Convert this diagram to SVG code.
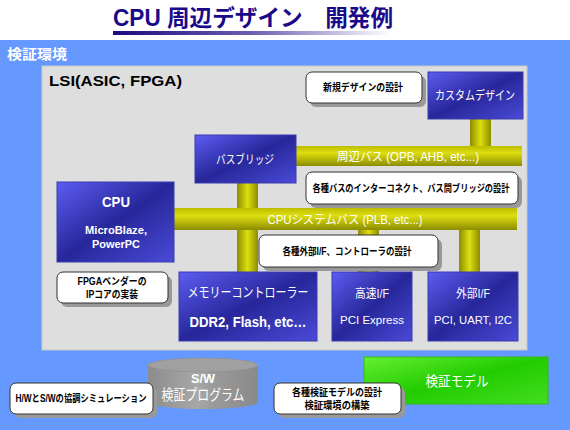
<svg xmlns="http://www.w3.org/2000/svg" width="570" height="430" viewBox="0 0 570 430">
<defs>
<linearGradient id="ul" x1="0" y1="0" x2="1" y2="0"><stop offset="0" stop-color="#1a0a80"/><stop offset="0.5" stop-color="#6a60b0"/><stop offset="1" stop-color="#ffffff"/></linearGradient>
<linearGradient id="blue" x1="0" y1="0" x2="1" y2="1"><stop offset="0" stop-color="#5c5cf2"/><stop offset="0.5" stop-color="#27279a"/><stop offset="1" stop-color="#4a4ad8"/></linearGradient>
<linearGradient id="busH" x1="0" y1="0" x2="0" y2="1"><stop offset="0" stop-color="#bdbd00"/><stop offset="0.35" stop-color="#dede10"/><stop offset="1" stop-color="#8c8c00"/></linearGradient>
<linearGradient id="busV" x1="0" y1="0" x2="1" y2="0"><stop offset="0" stop-color="#8c8c00"/><stop offset="0.5" stop-color="#dede10"/><stop offset="1" stop-color="#8c8c00"/></linearGradient>
<linearGradient id="green" x1="0" y1="0" x2="1" y2="1"><stop offset="0" stop-color="#66ee33"/><stop offset="0.5" stop-color="#22cc00"/><stop offset="1" stop-color="#44dd22"/></linearGradient>
<linearGradient id="cyl" x1="0" y1="0" x2="1" y2="0"><stop offset="0" stop-color="#8c8c8c"/><stop offset="0.45" stop-color="#a8a8a8"/><stop offset="0.6" stop-color="#9a9a9a"/><stop offset="1" stop-color="#8a8a8a"/></linearGradient>
</defs>
<style>
.jp{font-family:"Liberation Sans","Noto Sans CJK JP",sans-serif}
.box{fill:url(#blue);stroke:#3a3ab0;stroke-width:1}
.bt{fill:#ffffff;text-anchor:middle}
.co{fill:#ffffff;stroke:#333333;stroke-width:1}
.sh{fill:#999999}
.ct{fill:#000000;font-size:10px;font-weight:bold;text-anchor:middle}
.bh{fill:url(#busH)}
.bv{fill:url(#busV)}
</style>
<rect x="0" y="0" width="570" height="430" fill="#ffffff"/>
<g id="title">
<text class="jp" x="253" y="26" font-size="23" font-weight="bold" fill="#1a0a8a" text-anchor="middle" textLength="280" lengthAdjust="spacingAndGlyphs">CPU 周辺デザイン　開発例</text>
<rect x="113" y="31" width="278" height="4" fill="url(#ul)"/>
</g>
<rect x="0" y="40" width="570" height="390" fill="#6699ff"/>
<text class="jp" x="7" y="59" font-size="14" font-weight="bold" fill="#ffffff" textLength="60" lengthAdjust="spacingAndGlyphs">検証環境</text>
<g id="lsi">
<rect x="42" y="66" width="485" height="284" fill="#dedede" stroke="#c8c8c8"/>
<text class="jp" x="49" y="86" font-size="15" font-weight="bold" fill="#000000" textLength="133" lengthAdjust="spacingAndGlyphs">LSI(ASIC, FPGA)</text>
</g>
<g id="connectors">
<rect class="bv" x="470" y="119" width="21" height="28"/>
<rect class="bh" x="296" y="146" width="226" height="20"/>
<rect class="bv" x="237" y="183" width="21" height="89"/>
<rect class="bh" x="174" y="208" width="343" height="22"/>
<rect class="bv" x="358" y="230" width="21" height="42"/>
<rect class="bv" x="459" y="230" width="21" height="42"/>
<text class="jp bt" x="408" y="161" font-size="12" textLength="142" lengthAdjust="spacingAndGlyphs">周辺バス (OPB, AHB, etc...)</text>
<text class="jp bt" x="345" y="224" font-size="12" textLength="155" lengthAdjust="spacingAndGlyphs">CPUシステムバス (PLB, etc...)</text>
</g>
<g id="bridge">
<rect class="box" x="195" y="135" width="101" height="48"/>
<text class="jp bt" x="245" y="164" font-size="12" textLength="58" lengthAdjust="spacingAndGlyphs">バスブリッジ</text>
</g>
<g id="custom">
<rect class="box" x="428" y="72" width="95" height="47"/>
<text class="jp bt" x="475" y="100" font-size="12.5" textLength="80" lengthAdjust="spacingAndGlyphs">カスタムデザイン</text>
</g>
<g id="cpu">
<rect class="box" x="57" y="182" width="117" height="80"/>
<text class="jp bt" x="116" y="207" font-size="14" font-weight="bold" textLength="28" lengthAdjust="spacingAndGlyphs">CPU</text>
<text class="jp bt" x="116" y="234" font-size="11" font-weight="bold" textLength="62" lengthAdjust="spacingAndGlyphs">MicroBlaze,</text>
<text class="jp bt" x="116" y="248" font-size="11" font-weight="bold" textLength="48" lengthAdjust="spacingAndGlyphs">PowerPC</text>
</g>
<g id="memctrl">
<rect class="box" x="179" y="272" width="138" height="69"/>
<text class="jp bt" x="248" y="297" font-size="13.5" textLength="121" lengthAdjust="spacingAndGlyphs">メモリーコントローラー</text>
<text class="jp bt" x="248" y="327" font-size="14" font-weight="bold" textLength="117" lengthAdjust="spacingAndGlyphs">DDR2, Flash, etc…</text>
</g>
<g id="fastif">
<rect class="box" x="332" y="272" width="80" height="69"/>
<text class="jp bt" x="372" y="298" font-size="12" textLength="34" lengthAdjust="spacingAndGlyphs">高速I/F</text>
<text class="jp bt" x="372" y="324" font-size="11" textLength="64" lengthAdjust="spacingAndGlyphs">PCI Express</text>
</g>
<g id="extif">
<rect class="box" x="428" y="272" width="90" height="69"/>
<text class="jp bt" x="473" y="298" font-size="12" textLength="34" lengthAdjust="spacingAndGlyphs">外部I/F</text>
<text class="jp bt" x="473" y="324" font-size="11" textLength="78" lengthAdjust="spacingAndGlyphs">PCI, UART, I2C</text>
</g>
<g id="note-new">
<rect class="sh" x="310" y="76" width="116" height="31" rx="6"/>
<rect class="co" x="306" y="72" width="116" height="31" rx="6"/>
<text class="jp ct" x="363" y="91" textLength="80" lengthAdjust="spacingAndGlyphs">新規デザインの設計</text>
</g>
<g id="note-interconnect">
<rect class="sh" x="310" y="176" width="212" height="32" rx="6"/>
<rect class="co" x="306" y="172" width="212" height="32" rx="6"/>
<text class="jp ct" x="411" y="192" textLength="197" lengthAdjust="spacingAndGlyphs">各種バスのインターコネクト、バス間ブリッジの設計</text>
</g>
<g id="note-extif">
<rect class="sh" x="263" y="239" width="179" height="32" rx="6"/>
<rect class="co" x="259" y="235" width="179" height="32" rx="6"/>
<text class="jp ct" x="347" y="255" textLength="129" lengthAdjust="spacingAndGlyphs">各種外部I/F、コントローラの設計</text>
</g>
<g id="note-ip">
<rect class="sh" x="61" y="276" width="111" height="31" rx="6"/>
<rect class="co" x="57" y="272" width="111" height="31" rx="6"/>
<text class="jp ct" x="112" y="285" textLength="69" lengthAdjust="spacingAndGlyphs">FPGAベンダーの</text>
<text class="jp ct" x="112" y="298" textLength="52" lengthAdjust="spacingAndGlyphs">IPコアの実装</text>
</g>
<g id="sw">
<path d="M148,365 L148,402 A55,7 0 0 0 258,402 L258,365 Z" fill="url(#cyl)"/>
<ellipse cx="203" cy="365" rx="55" ry="7" fill="#a0a0a0" stroke="#8a8a8a" stroke-width="0.5"/>
<text class="jp bt" x="203" y="383" font-size="13" font-weight="bold" textLength="24" lengthAdjust="spacingAndGlyphs">S/W</text>
<text class="jp bt" x="203" y="400" font-size="15" fill="#eeeeee" textLength="83" lengthAdjust="spacingAndGlyphs">検証プログラム</text>
</g>
<g id="model">
<rect x="364" y="357" width="184" height="47" fill="url(#green)" stroke="#33bb11"/>
<text class="jp bt" x="457" y="386" font-size="14" textLength="63" lengthAdjust="spacingAndGlyphs">検証モデル</text>
</g>
<g id="note-cosim">
<rect class="sh" x="14" y="387" width="143" height="31" rx="6"/>
<rect class="co" x="10" y="383" width="143" height="31" rx="6"/>
<text class="jp ct" x="81" y="402" font-size="9.5" textLength="131" lengthAdjust="spacingAndGlyphs">H/WとS/Wの協調シミュレーション</text>
</g>
<g id="note-model">
<rect class="sh" x="278" y="387" width="127" height="31" rx="6"/>
<rect class="co" x="274" y="383" width="127" height="31" rx="6"/>
<text class="jp ct" x="337" y="396" textLength="90" lengthAdjust="spacingAndGlyphs">各種検証モデルの設計</text>
<text class="jp ct" x="337" y="409" textLength="65" lengthAdjust="spacingAndGlyphs">検証環境の構築</text>
</g>
</svg>
